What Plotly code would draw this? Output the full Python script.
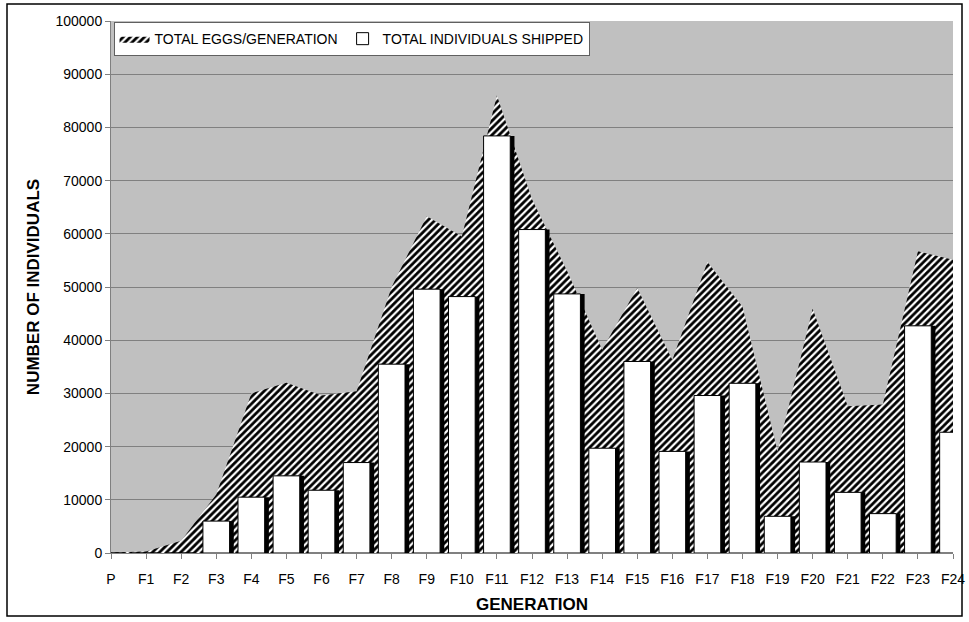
import plotly.graph_objects as go

generations = ["P", "F1", "F2", "F3", "F4", "F5", "F6", "F7", "F8", "F9", "F10", "F11", "F12",
               "F13", "F14", "F15", "F16", "F17", "F18", "F19", "F20", "F21", "F22", "F23", "F24"]
total_eggs = [100, 300, 2300, 11000, 30000, 32000, 29600, 30400, 50000, 63300, 59500, 86000, 66500,
              53000, 38200, 49800, 36300, 54700, 46300, 19100, 45900, 27600, 27900, 56700, 55100]
total_shipped = [0, 0, 0, 6000, 10500, 14500, 11800, 17000, 35500, 49600, 48200, 78400, 60800,
                 48700, 19700, 36000, 19100, 29600, 31900, 6900, 17100, 11400, 7400, 42700, 22700]
y_ticks = list(range(0, 100001, 10000))

FONT = "Liberation Sans, Arial, sans-serif"
W, H = 969, 622
ML, MR, MT, MB = 111, 16, 21, 69

fig = go.Figure()

fig.add_trace(go.Scatter(
    x=generations, y=total_eggs, mode="lines", fill="tozeroy",
    name="TOTAL EGGS/GENERATION",
    line=dict(width=0, color="black"),
    fillcolor="white",
    fillpattern=dict(shape="/", bgcolor="white", fgcolor="black", fgopacity=1,
                     size=5, solidity=0.55),
    xaxis="x", yaxis="y",
))

# shadow of the bars
fig.add_trace(go.Bar(
    x=generations, y=total_shipped, width=0.76, offset=-0.38 + 0.12,
    marker=dict(color="black", line=dict(width=0)),
    showlegend=False, xaxis="x2", yaxis="y2", hoverinfo="skip",
))
fig.add_trace(go.Bar(
    x=generations, y=total_shipped, width=0.76, offset=-0.38,
    name="TOTAL INDIVIDUALS SHIPPED",
    marker=dict(color="white", line=dict(width=1, color="black")),
    xaxis="x2", yaxis="y2",
))

axis_common = dict(showline=True, linecolor="#808080", linewidth=1, automargin=False,
                   tickfont=dict(family=FONT, size=14, color="black"))

fig.update_layout(
    width=W, height=H,
    margin=dict(l=ML, r=MR, t=MT, b=MB, autoexpand=False),
    paper_bgcolor="white", plot_bgcolor="#C0C0C0",
    barmode="overlay",
    font=dict(family=FONT, size=14, color="black"),
    xaxis=dict(type="category", categoryorder="array", categoryarray=generations,
               range=[0, 24], ticks="outside", ticklen=5, tickcolor="#808080",
               ticklabelstandoff=8,
               showgrid=False, zeroline=False,
               title=dict(text="<b>GENERATION</b>", font=dict(family=FONT, size=17), standoff=12),
               **axis_common),
    yaxis=dict(range=[0, 100000], tickvals=y_ticks, tickformat="d", ticks="outside", ticklen=5,
               tickcolor="#808080", showgrid=True, gridcolor="#808080", gridwidth=1,
               zeroline=False,
               title=dict(text="<b>NUMBER OF INDIVIDUALS</b>", font=dict(family=FONT, size=17), standoff=11),
               **axis_common),
    xaxis2=dict(type="category", categoryorder="array", categoryarray=generations,
                range=[0, 24], overlaying="x", visible=False),
    yaxis2=dict(range=[0, 100000], overlaying="y", visible=False),
    legend=dict(orientation="h", x=0.003, y=0.998, xanchor="left", yanchor="top",
                bgcolor="white", bordercolor="#606060", borderwidth=1,
                font=dict(family=FONT, size=14), traceorder="normal",
                itemwidth=30, tracegroupgap=0),
    showlegend=True,
)

# outer chart border
pw = W - ML - MR
ph = H - MT - MB
fig.add_shape(type="rect", xref="paper", yref="paper",
              x0=(7 - ML) / pw, x1=(962 - ML) / pw,
              y0=(H - MB - 616) / ph, y1=(H - MB - 4) / ph,
              line=dict(color="black", width=1.5), fillcolor="rgba(0,0,0,0)", layer="above")

fig.write_html("out.html", config={"displayModeBar": False},
               post_script="document.body.style.margin='0';")
